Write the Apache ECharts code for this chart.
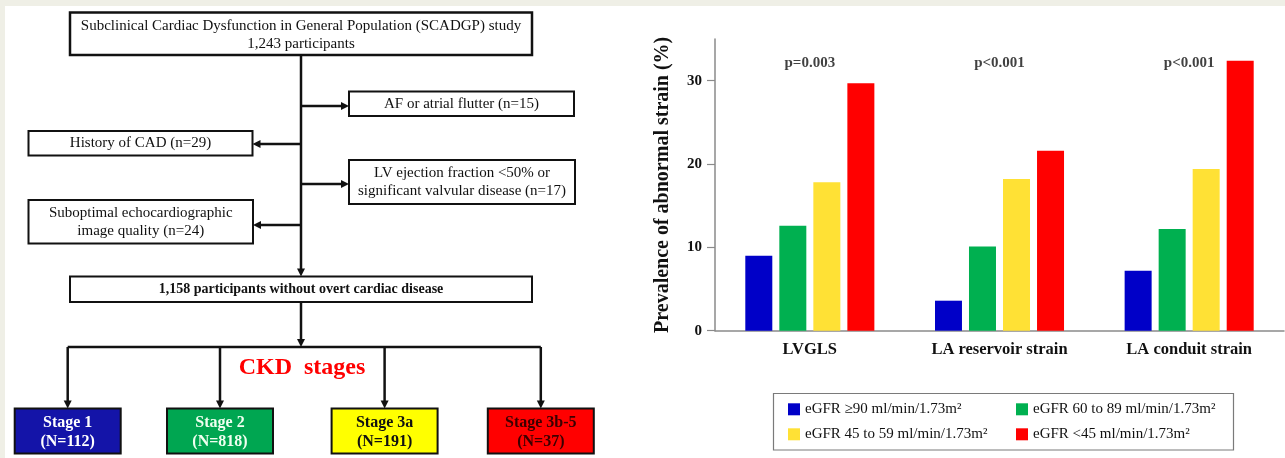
<!DOCTYPE html>
<html>
<head>
<meta charset="utf-8">
<script src="https://cdn.jsdelivr.net/npm/echarts@6/dist/echarts.min.js"></script>
<style>
  html, body { margin:0; padding:0; background:#efefe6; }
  #panel { position:absolute; left:5px; top:6px; right:0; bottom:0; background:#ffffff; }
  #chart { position:absolute; left:0; top:0; width:1285px; height:458px; }
</style>
</head>
<body>
<div id="panel"></div>
<div id="chart"></div>
<script>
// ---------- data ----------
const categories = ['LVGLS', 'LA reservoir strain', 'LA conduit strain'];
const seriesNames = [
  'eGFR \u226590 ml/min/1.73m\u00B2',
  'eGFR 60 to 89 ml/min/1.73m\u00B2',
  'eGFR 45 to 59 ml/min/1.73m\u00B2',
  'eGFR <45 ml/min/1.73m\u00B2'
];
const egfr90 = [9.0, 3.6, 7.2];
const egfr60to89 = [12.6, 10.1, 12.2];
const egfr45to59 = [17.8, 18.2, 19.4];
const egfrBelow45 = [29.7, 21.6, 32.4];
const pValues = ['p=0.003', 'p<0.001', 'p<0.001'];
const yTicks = [0, 10, 20, 30];

// flowchart text
const studyTitle = 'Subclinical Cardiac Dysfunction in General Population (SCADGP) study';
const studyTotal = '1,243 participants';
const exclusionLabels = ['AF or atrial flutter', 'History of CAD', 'LV ejection fraction <50% or\nsignificant valvular disease', 'Suboptimal echocardiographic\nimage quality'];
const exclusionCounts = [15, 29, 17, 24];
const finalCohort = '1,158 participants without overt cardiac disease';
const stageTitle = 'CKD  stages';
const stageNames = ['Stage 1', 'Stage 2', 'Stage 3a', 'Stage 3b-5'];
const stageCounts = [112, 818, 191, 37];

// ---------- styles ----------
const ff = '"Liberation Serif", "Times New Roman", Times, serif';
const barColors = ['#0000c8', '#00b050', '#ffe135', '#ff0000'];
const stageFills = ['#1414a8', '#00a651', '#ffff00', '#ff0000'];
const stageTextColors = ['#ffffff', '#f0fff0', '#111111', '#3a0000'];
const ink = '#111111';
const pLabelLevel = 32.1;

// ---------- flowchart (diagram, via graphic) ----------
const G = [];
function rect(x, y, w, h, fill, lw) {
  G.push({ type: 'rect', shape: { x: x, y: y, width: w, height: h }, style: { fill: fill, stroke: ink, lineWidth: lw } });
}
function text(x, y, t, font, color, lh) {
  G.push({ type: 'text', x: x, y: y, style: { text: t, font: font, fill: color, align: 'center', verticalAlign: 'middle', lineHeight: lh || 18 } });
}
function line(x1, y1, x2, y2) {
  G.push({ type: 'line', shape: { x1: x1, y1: y1, x2: x2, y2: y2 }, style: { stroke: ink, lineWidth: 2.5 } });
}
function arrow(x1, y1, x2, y2) {
  const L = 8, W = 4;
  const dx = x2 - x1, dy = y2 - y1, d = Math.sqrt(dx * dx + dy * dy);
  const ux = dx / d, uy = dy / d;
  line(x1, y1, x2 - ux * (L - 1), y2 - uy * (L - 1));
  G.push({ type: 'polygon', shape: { points: [[x2, y2], [x2 - ux * L - uy * W, y2 - uy * L + ux * W], [x2 - ux * L + uy * W, y2 - uy * L - ux * W]] }, style: { fill: ink } });
}
const fReg = '15px ' + ff;
const fBold = 'bold 14px ' + ff;
const mainX = 301;

rect(70, 12.5, 462, 42.5, '#ffffff', 2.5);
text(mainX, 35, studyTitle + '\n' + studyTotal, fReg, ink, 18);
arrow(mainX, 55, mainX, 276.5);

// exclusion boxes: right, left, right, left
const exBoxes = [[349, 91.5, 225, 24.5, 106], [28.5, 131, 224, 24.5, 144], [349, 160, 226, 44, 184], [28.5, 200, 224.5, 43.5, 225]];
exBoxes.forEach(function (b, i) {
  rect(b[0], b[1], b[2], b[3], '#ffffff', 2);
  const right = b[0] > mainX;
  arrow(mainX, b[4], right ? b[0] : b[0] + b[2], b[4]);
  text(b[0] + b[2] / 2, b[1] + b[3] / 2, exclusionLabels[i] + ' (n=' + exclusionCounts[i] + ')', fReg, ink, 18);
});

rect(70, 276.5, 462, 25.5, '#ffffff', 2);
text(mainX, 289.5, finalCohort, fBold, ink);
arrow(mainX, 302, mainX, 347);
const drops = [67.7, 220, 384.6, 540.8];
line(drops[0], 347, drops[3], 347);
drops.forEach(function (x, i) {
  arrow(x, 347, x, 408.5);
  rect(x - 53, 408.5, 106, 45, stageFills[i], 2);
  text(x, 432, stageNames[i] + '\n(N=' + stageCounts[i] + ')', 'bold 16px ' + ff, stageTextColors[i], 19);
});
text(302, 368, stageTitle, 'bold 24px ' + ff, '#ff0000');

// legend frame
G.push({ type: 'rect', shape: { x: 773.5, y: 393.5, width: 460, height: 56.5 }, style: { fill: 'none', stroke: '#7a7a7a', lineWidth: 1.2 } });

// ---------- chart ----------
const chart = echarts.init(document.getElementById('chart'), null, { renderer: 'canvas' });
const seriesData = [egfr90, egfr60to89, egfr45to59, egfrBelow45];
const series = seriesData.map(function (d, i) {
  return { type: 'bar', name: seriesNames[i], data: d, barWidth: 27, barGap: '26%', itemStyle: { color: barColors[i] } };
});
series.push({
  type: 'scatter', name: 'p', data: pValues.map(function (p, i) { return [i, pLabelLevel]; }),
  symbol: 'circle', symbolSize: 1, itemStyle: { color: 'rgba(0,0,0,0)' }, silent: true,
  label: { show: true, position: 'inside', formatter: function (p) { return pValues[p.dataIndex]; }, fontFamily: ff, fontWeight: 'bold', fontSize: 15, color: ink }
});
const legendCommon = {
  orient: 'vertical', top: 401.8, itemWidth: 12, itemHeight: 12, itemGap: 10, padding: 0, icon: 'rect', selectedMode: false,
  textStyle: { fontFamily: ff, fontSize: 15, lineHeight: 15, color: ink }
};
chart.setOption({
  animation: false,
  backgroundColor: 'transparent',
  textStyle: { fontFamily: ff },
  grid: { left: 715, right: 1, top: 39, bottom: 127.3 },
  xAxis: {
    type: 'category', data: categories,
    axisLine: { lineStyle: { color: '#8a8a8a', width: 1.5 } },
    axisTick: { show: false },
    axisLabel: { color: ink, fontWeight: 'bold', fontSize: 16.5, margin: 11, fontFamily: ff }
  },
  yAxis: {
    type: 'value', min: 0, max: 35, interval: 10,
    splitLine: { show: false },
    axisLine: { show: true, lineStyle: { color: '#8a8a8a', width: 1.5 } },
    axisTick: { show: true, length: 8, customValues: yTicks, lineStyle: { color: '#8a8a8a', width: 1.2 } },
    axisLabel: { customValues: yTicks, color: ink, fontWeight: 'bold', fontSize: 15, margin: 13, fontFamily: ff },
    name: 'Prevalence of abnormal strain (%)', nameLocation: 'middle', nameRotate: 90, nameGap: 42.5,
    nameTextStyle: { fontFamily: ff, fontWeight: 'bold', fontSize: 20, color: ink }
  },
  legend: [
    Object.assign({}, legendCommon, { left: 788, data: [seriesNames[0], seriesNames[2]] }),
    Object.assign({}, legendCommon, { left: 1016, data: [seriesNames[1], seriesNames[3]] })
  ],
  series: series,
  graphic: { elements: G }
});
</script>
</body>
</html>
